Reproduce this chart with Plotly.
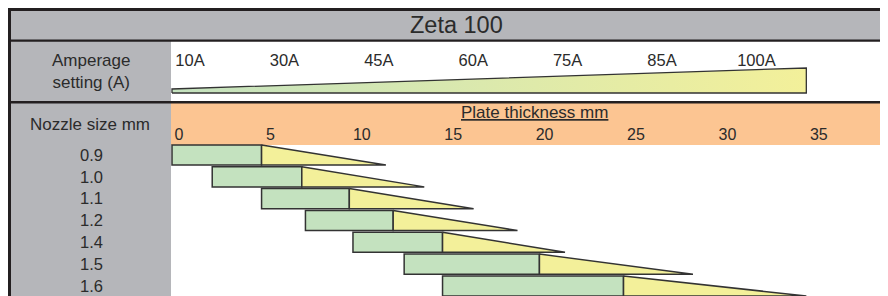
import plotly.graph_objects as go

# ---------------- data ----------------
TITLE = "Zeta 100"
NOZZLE_SIZES = ["0.9", "1.0", "1.1", "1.2", "1.4", "1.5", "1.6"]
PLATE_START = [0.0, 2.2, 4.9, 7.3, 9.9, 12.7, 14.8]        # green bar start (mm)
PLATE_OPTIMAL_END = [4.9, 7.1, 9.7, 12.1, 14.8, 20.1, 24.7]  # green bar end / wedge start (mm)
PLATE_MAX = [11.7, 13.8, 16.5, 18.9, 21.5, 28.5, 34.7]       # triangle tip (mm)
THICKNESS_TICKS = [0, 5, 10, 15, 20, 25, 30, 35]
AMPERAGE_LABELS = ["10A", "30A", "45A", "60A", "75A", "85A", "100A"]

# ---------------- style ----------------
SCREEN_W, SCREEN_H = 888, 296
OFF = 8  # page body margin
W, H = SCREEN_W - OFF, SCREEN_H - OFF
GREY = "#b5b6ba"
ORANGE = "#fcc592"
GREEN = "#c4e2bf"
YELLOW = "#f3f09a"
DARK = "#231f20"
TEXT = "#2b2b2b"
FONT = "Liberation Sans, Arial, sans-serif"
PX_PER_MM = 18.28
PLOT_LEFT = 170
ZERO_X = 172
BAR_W = 0.92
ROW_PITCH = 21.83
ROW0_Y = 155
AMP_X0, AMP_STEP = 190, 94.4
WEDGE_BASE, WEDGE_LEFT, WEDGE_RIGHT = 8, 12, 33


def pxx(x):
    """screen x pixel -> paper fraction"""
    return (x - OFF) / W


def pxy(y):
    """screen y pixel -> paper fraction"""
    return 1 - (y - OFF) / H


fig = go.Figure()

# green bars
fig.add_trace(go.Bar(
    y=list(range(len(NOZZLE_SIZES))),
    x=[e - s for s, e in zip(PLATE_START, PLATE_OPTIMAL_END)],
    base=PLATE_START,
    orientation="h",
    width=BAR_W,
    marker=dict(color=GREEN, line=dict(color="#333333", width=1.5)),
    hoverinfo="skip",
    showlegend=False,
))

# yellow triangles
tx, ty = [], []
for i, (m, t) in enumerate(zip(PLATE_OPTIMAL_END, PLATE_MAX)):
    top, bot = i - BAR_W / 2, i + BAR_W / 2
    tx += [m, m, t, m, None]
    ty += [top, bot, bot, top, None]
fig.add_trace(go.Scatter(
    x=tx, y=ty, mode="lines", fill="toself", fillcolor=YELLOW,
    line=dict(color="#333333", width=1.5), hoverinfo="skip", showlegend=False,
))

# amperage wedge (spans the thickness scale)
xmax = max(PLATE_MAX)
fig.add_trace(go.Scatter(
    x=[0, 0, xmax, xmax, 0],
    y=[WEDGE_BASE, WEDGE_LEFT, WEDGE_RIGHT, WEDGE_BASE, WEDGE_BASE],
    xaxis="x", yaxis="y2", mode="lines", fill="toself",
    fillgradient=dict(type="horizontal", colorscale=[[0, GREEN], [1, YELLOW]]),
    line=dict(color="#333333", width=1.3), hoverinfo="skip", showlegend=False,
))

# invisible trace to carry amperage axis
fig.add_trace(go.Scatter(
    x=AMPERAGE_LABELS, y=[None] * len(AMPERAGE_LABELS), xaxis="x2", yaxis="y3",
    mode="markers", marker=dict(opacity=0), hoverinfo="skip", showlegend=False,
))

y_top_px = ROW0_Y - ROW_PITCH / 2
y_range_bottom = (SCREEN_H - ROW0_Y) / ROW_PITCH

shapes = [
    # title band
    dict(type="rect", xref="paper", yref="paper", x0=pxx(9), x1=1, y0=pxy(41), y1=pxy(9),
         fillcolor=GREY, line=dict(width=0), layer="below"),
    # left column
    dict(type="rect", xref="paper", yref="paper", x0=pxx(9), x1=pxx(171), y0=0, y1=pxy(40),
         fillcolor=GREY, line=dict(width=0), layer="below"),
    # orange band
    dict(type="rect", xref="paper", yref="paper", x0=pxx(171), x1=1, y0=pxy(145), y1=pxy(102),
         fillcolor=ORANGE, line=dict(width=0), layer="below"),
    # borders
    dict(type="line", xref="paper", yref="paper", x0=pxx(7), x1=1, y0=pxy(9.5), y1=pxy(9.5),
         line=dict(color=DARK, width=3)),
    dict(type="line", xref="paper", yref="paper", x0=pxx(9.5), x1=pxx(9.5), y0=0, y1=pxy(8),
         line=dict(color=DARK, width=3)),
    dict(type="line", xref="paper", yref="paper", x0=pxx(8), x1=1, y0=pxy(40.6), y1=pxy(40.6),
         line=dict(color=DARK, width=2.4)),
    dict(type="line", xref="paper", yref="paper", x0=pxx(8), x1=1, y0=pxy(102.2), y1=pxy(102.2),
         line=dict(color=DARK, width=2.4)),
]

annotations = [
    dict(text=TITLE, x=pxx(456.5), y=pxy(25.5), xref="paper", yref="paper", showarrow=False,
         xanchor="center", yanchor="middle", font=dict(size=23.5, color=TEXT, family=FONT)),
    dict(text="Amperage<br>setting (A)", x=pxx(91), y=pxy(71.5), xref="paper", yref="paper",
         showarrow=False, xanchor="center", yanchor="middle", align="center",
         font=dict(size=17, color=TEXT, family=FONT)),
    dict(text="Nozzle size mm", x=pxx(90), y=pxy(124), xref="paper", yref="paper",
         showarrow=False, xanchor="center", yanchor="middle",
         font=dict(size=17, color=TEXT, family=FONT)),
    dict(text="<u>Plate thickness mm</u>", x=pxx(534), y=pxy(112), xref="paper", yref="paper",
         showarrow=False, xanchor="center", yanchor="middle",
         font=dict(size=17, color=TEXT, family=FONT)),
]

fig.update_layout(
    width=W, height=H,
    margin=dict(l=0, r=0, t=0, b=0),
    paper_bgcolor="white", plot_bgcolor="rgba(0,0,0,0)",
    showlegend=False,
    barmode="overlay",
    shapes=shapes,
    annotations=annotations,
    xaxis=dict(
        domain=[pxx(PLOT_LEFT), 1],
        range=[-(ZERO_X - PLOT_LEFT) / PX_PER_MM, (SCREEN_W - ZERO_X) / PX_PER_MM],
        side="top", tickvals=THICKNESS_TICKS, ticks="", ticklabelshift=7,
        showgrid=False, zeroline=False, showline=False, anchor="y",
        tickfont=dict(size=16, color=TEXT, family=FONT),
    ),
    yaxis=dict(
        domain=[0, pxy(y_top_px)],
        range=[y_range_bottom, -0.5],
        tickvals=list(range(len(NOZZLE_SIZES))), ticktext=NOZZLE_SIZES,
        ticks="", ticklabelstandoff=66,
        showgrid=False, zeroline=False, showline=False, anchor="x",
        tickfont=dict(size=16.5, color=TEXT, family=FONT),
    ),
    xaxis2=dict(
        domain=[pxx(PLOT_LEFT), 1], anchor="y3", type="category",
        categoryorder="array", categoryarray=AMPERAGE_LABELS,
        range=[(PLOT_LEFT - AMP_X0) / AMP_STEP, (SCREEN_W - AMP_X0) / AMP_STEP],
        side="top", ticks="", showgrid=False, zeroline=False, showline=False,
        tickfont=dict(size=16.5, color=TEXT, family=FONT),
    ),
    yaxis2=dict(
        domain=[pxy(101), pxy(67)], anchor="x", range=[0, 34],
        showticklabels=False, showgrid=False, zeroline=False, showline=False,
    ),
    yaxis3=dict(
        domain=[pxy(101), pxy(70.5)], anchor="x2", range=[0, 1],
        showticklabels=False, showgrid=False, zeroline=False, showline=False,
    ),
)

fig.write_html("out.html")
